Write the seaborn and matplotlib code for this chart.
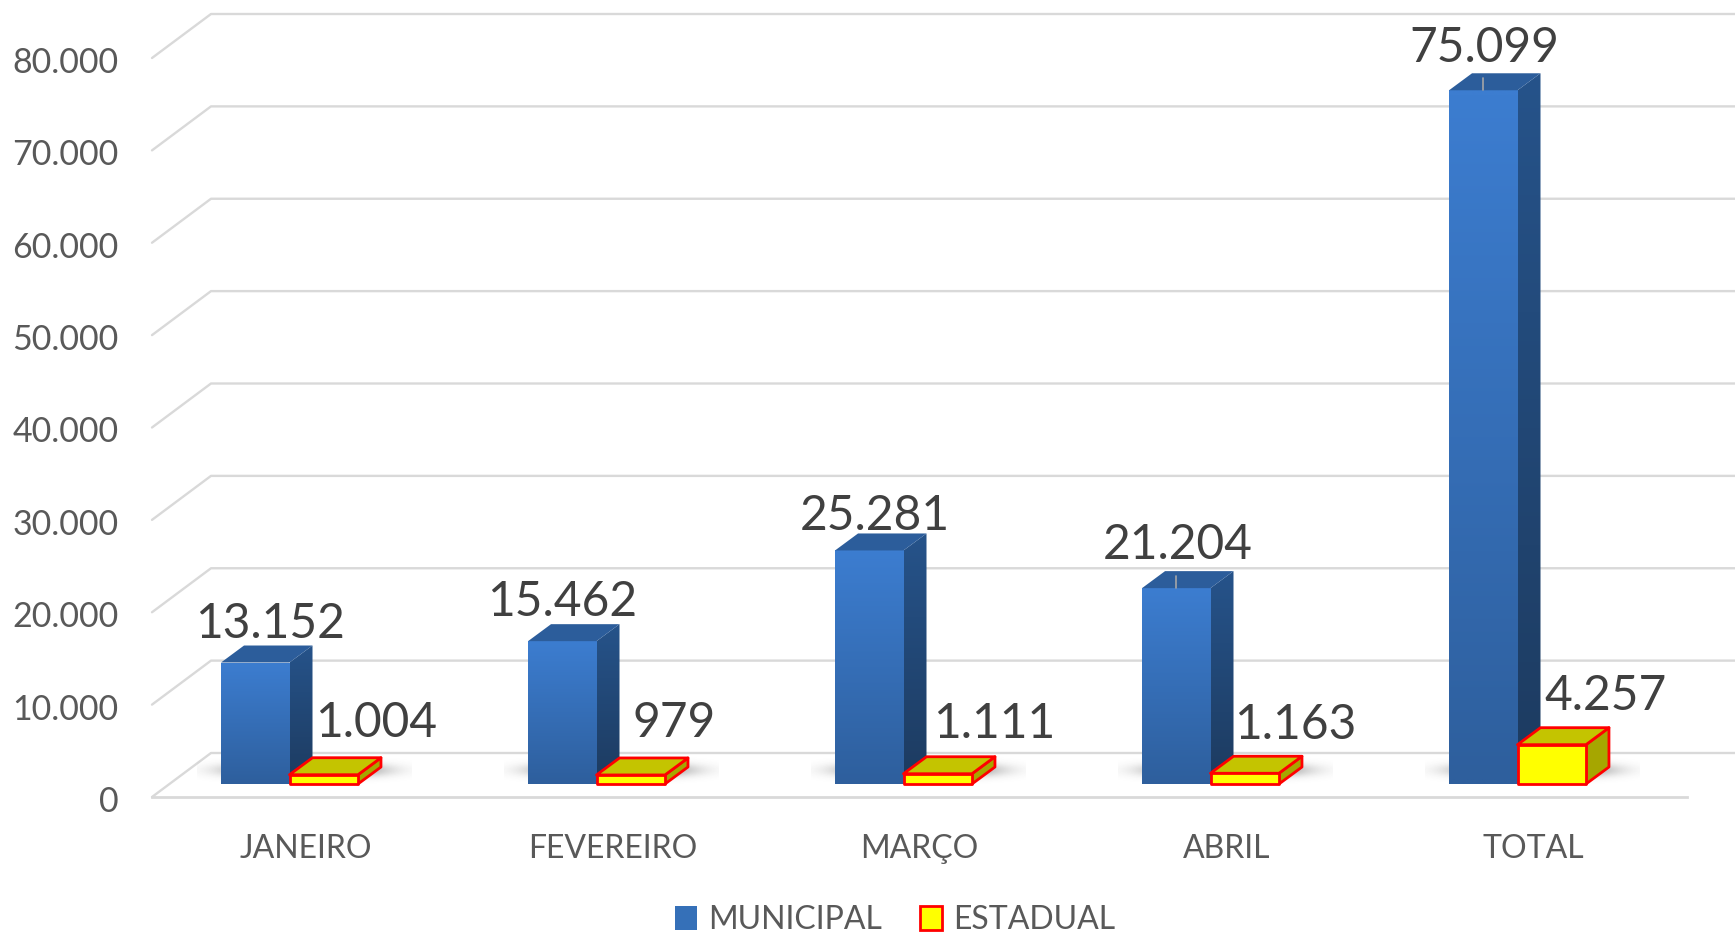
import matplotlib
matplotlib.use("Agg")
import matplotlib.pyplot as plt
from matplotlib.patches import Polygon
from matplotlib.transforms import IdentityTransform, ScaledTranslation
import numpy as np
import pandas as pd
import seaborn as sns

categories = ['JANEIRO', 'FEVEREIRO', 'MARÇO', 'ABRIL', 'TOTAL']
municipal = [13152, 15462, 25281, 21204, 75099]
estadual = [1004, 979, 1111, 1163, 4257]
municipal_labels = ['13.152', '15.462', '25.281', '21.204', '75.099']
estadual_labels = ['1.004', '979', '1.111', '1.163', '4.257']
y_ticks = [0, 10000, 20000, 30000, 40000, 50000, 60000, 70000, 80000]
y_tick_labels = ['0', '10.000', '20.000', '30.000', '40.000', '50.000', '60.000', '70.000', '80.000']

W, H = 1735, 933
sns.set_theme(style='white')
plt.rcParams['font.family'] = ['Lato', 'DejaVu Sans']

df = pd.DataFrame({
    'mes': categories * 2,
    'valor': municipal + estadual,
    'serie': ['MUNICIPAL'] * 5 + ['ESTADUAL'] * 5,
})

fig = plt.figure(figsize=(W / 100, H / 100), dpi=100)
ax = fig.add_axes([152 / W, 1 - 797 / H, (1687 - 152) / W, (797 - 58) / H])
sns.barplot(data=df, x='mes', y='valor', hue='serie', order=categories,
            hue_order=['MUNICIPAL', 'ESTADUAL'],
            palette={'MUNICIPAL': '#3570B8', 'ESTADUAL': '#FFFF00'},
            width=0.446, gap=0, saturation=1, errorbar=None, ax=ax, zorder=5)
ax.set_xlim(-0.5, 4.5)
ax.set_ylim(0, 80000)
ax.set_xlabel('')
ax.set_ylabel('')
ax.set_yticks(y_ticks)
ax.set_yticklabels(y_tick_labels, fontsize=24.5, color='#595959')
ax.tick_params(axis='y', length=0, pad=24)
ax.tick_params(axis='x', length=0, pad=27, labelsize=23, labelcolor='#595959')
# tick labels sit a little lower than the grid ends
for lab in ax.get_yticklabels():
    lab.set_transform(lab.get_transform() + ScaledTranslation(0, -2 / 100, fig.dpi_scale_trans))
for s in ['top', 'right', 'left']:
    ax.spines[s].set_visible(False)
ax.spines['bottom'].set_color('#D9D9D9')
ax.spines['bottom'].set_linewidth(2)

ident = IdentityTransform()
grid_color = '#D9D9D9'
depth_x, depth_y = 59, 44   # wall depth in px
bar_dx, bar_dy = -16, 13    # bars stand inside the floor
face_x, face_y = 23, 17     # bar depth in px


def to_px(x, y):
    return ax.transData.transform((x, y))


# walls: back grid lines and the diagonals on the left
for v in y_ticks:
    x0, y0 = to_px(-0.5, v)
    ax.plot([x0, x0 + depth_x, W], [y0, y0 + depth_y, y0 + depth_y], color=grid_color,
            lw=1.7, transform=ident, clip_on=False, zorder=1)


def gradient(top, bottom, extent, clip, z):
    t = np.linspace(0, 1, 64)[:, None, None]
    c = (1 - t) * np.array(matplotlib.colors.to_rgb(top)) + t * np.array(matplotlib.colors.to_rgb(bottom))
    im = ax.imshow(c, extent=extent, transform=ident, aspect='auto', interpolation='bilinear',
                   origin='upper', zorder=z, clip_on=True)
    im.set_clip_path(clip)


def shadow(x0, x1, y0, y1, z):
    xs = np.linspace(-1, 1, 120)
    ys = np.linspace(-1, 1, 40)
    xx, yy = np.meshgrid(xs, ys)
    a = np.exp(-(np.abs(xx) / 0.7) ** 3 - (yy ** 2) * 4.5) * 0.75
    img = np.zeros(a.shape + (4,))
    img[..., 3] = a
    img[..., :3] = 0.2
    ax.imshow(img, extent=(x0, x1, y0, y1), transform=ident, aspect='auto', zorder=z,
              clip_on=False, interpolation='bilinear')


muni_bars, est_bars = ax.containers[0], ax.containers[1]

for bars, kind in [(muni_bars, 'm'), (est_bars, 'e')]:
    for b in bars:
        (x0, y0) = to_px(b.get_x(), 0)
        (x1, y1) = to_px(b.get_x() + b.get_width(), b.get_height())
        x0 += bar_dx; x1 += bar_dx; y0 += bar_dy; y1 += bar_dy
        front = [(x0, y0), (x1, y0), (x1, y1), (x0, y1)]
        side = [(x1, y0), (x1 + face_x, y0 + face_y), (x1 + face_x, y1 + face_y), (x1, y1)]
        top = [(x0, y1), (x1, y1), (x1 + face_x, y1 + face_y), (x0 + face_x, y1 + face_y)]
        b.set_visible(False)
        if kind == 'm':
            shadow(x0 - 24, x1 + 122, y0 + 0, y0 + 28, 2)
            f = Polygon(front, transform=ident, fc='none', ec='none', zorder=6)
            s = Polygon(side, transform=ident, fc='none', ec='none', zorder=6)
            ax.add_patch(f)
            ax.add_patch(s)
            gradient('#3C7DD0', '#2E5F9D', (x0, x1, y0, y1), f, 6)
            gradient('#26538A', '#1D3B60', (x1, x1 + face_x, y0, y1 + face_y), s, 6)
            ax.add_patch(Polygon(top, transform=ident, fc='#2C5D9B', ec='none', zorder=6))
        else:
            for pts, col in [(side, '#A6A600'), (top, '#C4C400'), (front, '#FFFF00')]:
                ax.add_patch(Polygon(pts, transform=ident, fc=col, ec='#FF0000', lw=2,
                                     joinstyle='round', zorder=7))

ax.set_xlim(-0.5, 4.5)
ax.set_ylim(0, 80000)

# data labels, moved by hand like in the original
muni_nudge = [(15, 39), (0, 39), (6, 34), (1, 43), (1, 42)]
est_nudge = [(52, 52), (43, 52), (56, 50), (50, 48), (54, 49)]
for bars, texts, nudge in [(muni_bars, municipal_labels, muni_nudge), (est_bars, estadual_labels, est_nudge)]:
    for b, t, (dx, dy) in zip(bars, texts, nudge):
        x, y = to_px(b.get_x() + b.get_width() / 2, b.get_height())
        ax.text(x + bar_dx + dx, y + bar_dy + dy, t, transform=ident, ha='center', va='center',
                fontsize=34.5, color='#404040', zorder=9, clip_on=False)

# small leader lines on two of the labels
for i in [3, 4]:
    b = muni_bars[i]
    x, y = to_px(b.get_x() + b.get_width() / 2, b.get_height())
    ax.plot([x + bar_dx, x + bar_dx], [y + bar_dy, y + bar_dy + 12], color='#A6A6A6', lw=1.2,
            transform=ident, zorder=8, clip_on=False)

handles = [plt.Rectangle((0, 0), 1, 1, fc='#3570B8', ec='none'),
           plt.Rectangle((0, 0), 1, 1, fc='#FFFF00', ec='#FF0000', lw=2)]
ax.legend(handles, ['MUNICIPAL', 'ESTADUAL'], loc='center', bbox_to_anchor=(895 / W, 1 - 920 / H),
          bbox_transform=fig.transFigure, ncol=2, frameon=False, fontsize=23,
          labelcolor='#595959', handlelength=0.69, handleheight=0.76, handletextpad=0.33,
          columnspacing=1.2, borderpad=0, borderaxespad=0)

fig.savefig('out.png', dpi=100)
